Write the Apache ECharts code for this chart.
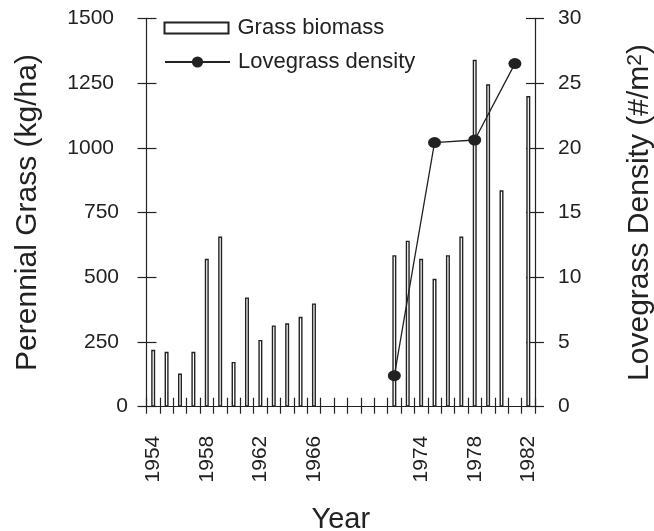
<!DOCTYPE html>
<html>
<head>
<meta charset="utf-8">
<script src="https://cdn.jsdelivr.net/npm/echarts@6/dist/echarts.min.js"></script>
<style>
html,body{margin:0;padding:0;background:#ffffff;}
#chart{width:654px;height:531px;}
</style>
</head>
<body>
<div id="chart"></div>
<script>
// ---- data ----
const years = ['1954','1955','1956','1957','1958','1959','1960','1961','1962','1963','1964','1965','1966','1967','1968','1969','1970','1971','1972','1973','1974','1975','1976','1977','1978','1979','1980','1981','1982'];
const grassBiomass = [220,212,128,212,571,657,173,422,258,314,322,347,399,null,null,null,null,null,585,641,571,494,585,657,1340,1245,836,null,1200];
const lovegrassDensity = [null,null,null,null,null,null,null,null,null,null,null,null,null,null,null,null,null,null,2.4,null,null,20.4,null,null,20.6,null,null,26.5,null];
const yearTickLabels = ['1954','1958','1962','1966','1974','1978','1982'];
const leftTicks = {min:0, max:1500, step:250};
const rightTicks = {min:0, max:30, step:5};

// ---- style ----
const INK = '#222222';
const FONT = '"Liberation Sans", Arial, Helvetica, sans-serif';
const chart = echarts.init(document.getElementById('chart'), null, {renderer:'canvas'});

const tickStyle = {color: INK, width: 1.2};
const lblRich = {
  d1: {fontSize: 21, fontFamily: FONT, color: INK, padding: [0, 0, 0, 0]},
  d3: {fontSize: 21, fontFamily: FONT, color: INK, padding: [0, 9, 0, 0]},
  d4: {fontSize: 21, fontFamily: FONT, color: INK, padding: [0, 14, 0, 0]}
};

const option = {
  animation: false,
  backgroundColor: '#ffffff',
  grid: {left: 146.5, top: 18.3, width: 388.5, height: 388.4, containLabel: false, outerBoundsMode: 'none'},
  legend: [
    {
      data: [{name: 'Grass biomass', icon: 'rect'}],
      left: 163.5, top: 17, padding: 0, itemWidth: 64, itemHeight: 11,
      selectedMode: false,
      textStyle: {fontSize: 22, color: INK, fontFamily: FONT, padding: [0, 0, 0, 4]}
    },
    {
      data: [{name: 'Lovegrass density'}],
      left: 164, top: 51, padding: 0, itemWidth: 65, itemHeight: 14,
      selectedMode: false,
      textStyle: {fontSize: 22, color: INK, fontFamily: FONT, padding: [0, 0, 0, 3]}
    }
  ],
  xAxis: [
    {
      type: 'category', data: years, position: 'bottom', boundaryGap: true,
      axisLine: {show: true, lineStyle: tickStyle},
      axisTick: {show: true, interval: 0, inside: false, length: 7, lineStyle: tickStyle},
      axisLabel: {
        interval: function (idx, val) { return yearTickLabels.indexOf(val) >= 0; },
        rotate: 90, margin: 29, fontSize: 21, color: INK, fontFamily: FONT,
        padding: [8, 0, 0, 0]
      },
      splitLine: {show: false},
      name: 'Year', nameLocation: 'middle', nameGap: 99, nameMoveOverlap: false,
      nameTextStyle: {fontSize: 29, color: INK, fontFamily: FONT}
    },
    {
      type: 'category', data: years, position: 'bottom', boundaryGap: true,
      axisLine: {show: false},
      axisTick: {show: true, interval: 0, inside: true, length: 9, lineStyle: tickStyle},
      axisLabel: {show: false},
      splitLine: {show: false}
    }
  ],
  yAxis: [
    {
      type: 'value', position: 'left', min: leftTicks.min, max: leftTicks.max, interval: leftTicks.step,
      axisLine: {show: true, lineStyle: tickStyle},
      axisTick: {show: true, inside: false, length: 9, lineStyle: tickStyle},
      axisLabel: {
        margin: 18.5, color: INK, fontSize: 21, fontFamily: FONT,
        formatter: function (v) { return '{d' + String(v).length + '|' + v + '}'; },
        rich: lblRich
      },
      splitLine: {show: false},
      name: 'Perennial Grass (kg/ha)', nameLocation: 'middle', nameGap: 104, nameMoveOverlap: false,
      nameTextStyle: {fontSize: 30, color: INK, fontFamily: FONT}
    },
    {
      type: 'value', position: 'right', min: rightTicks.min, max: rightTicks.max, interval: rightTicks.step,
      axisLine: {show: true, lineStyle: tickStyle},
      axisTick: {show: true, inside: false, length: 9, lineStyle: tickStyle},
      axisLabel: {margin: 23, color: INK, fontSize: 21, fontFamily: FONT},
      splitLine: {show: false},
      name: 'Lovegrass Density (#/m{sup|2})', nameLocation: 'middle', nameGap: 90, nameMoveOverlap: false,
      nameTextStyle: {
        fontSize: 30, color: INK, fontFamily: FONT,
        rich: {sup: {fontSize: 21, color: INK, fontFamily: FONT, verticalAlign: 'top'}}
      }
    },
    {
      type: 'value', position: 'left', min: leftTicks.min, max: leftTicks.max, interval: leftTicks.step,
      axisLine: {show: false},
      axisTick: {show: true, inside: true, length: 10, lineStyle: tickStyle},
      axisLabel: {show: false},
      splitLine: {show: false}
    },
    {
      type: 'value', position: 'right', min: rightTicks.min, max: rightTicks.max, interval: rightTicks.step,
      axisLine: {show: false},
      axisTick: {show: true, inside: true, length: 9, lineStyle: tickStyle},
      axisLabel: {show: false},
      splitLine: {show: false}
    }
  ],
  series: [
    {
      type: 'bar', name: 'Grass biomass', data: grassBiomass,
      xAxisIndex: 0, yAxisIndex: 0, barWidth: 4,
      itemStyle: {color: '#ffffff', borderColor: INK, borderWidth: 1.4},
      silent: true
    },
    {
      type: 'line', name: 'Lovegrass density', data: lovegrassDensity,
      xAxisIndex: 0, yAxisIndex: 1, connectNulls: true,
      symbol: 'circle', symbolSize: [13, 11], showSymbol: true, showAllSymbol: true,
      itemStyle: {color: INK},
      lineStyle: {color: INK, width: 1.3},
      silent: true, z: 3
    }
  ]
};
chart.setOption(option);
</script>
</body>
</html>
